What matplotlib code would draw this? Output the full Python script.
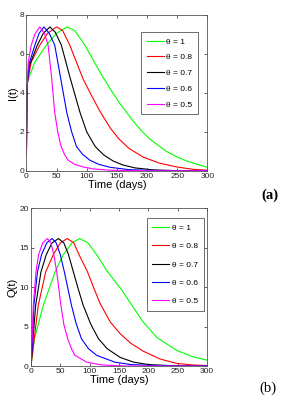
import numpy as np
import matplotlib
matplotlib.use("Agg")
from matplotlib import pyplot as plt
from matplotlib import font_manager

# fuente estrecha si existe
nombres = set(f.name for f in font_manager.fontManager.ttflist)
fams = [n for n in ['Liberation Sans Narrow', 'DejaVu Sans Condensed', 'Liberation Sans'] if n in nombres]
plt.rcParams['font.family'] = fams + ['DejaVu Sans']

# valores
labels = ["\u03b8 = 1", "\u03b8 = 0.8", "\u03b8 = 0.7", "\u03b8 = 0.6", "\u03b8 = 0.5"]
colores = ["#00ff00", "#ff0000", "#000000", "#0000ff", "#ff00ff"]

# I(t)
tI_1 = [0, 1, 2, 14, 33, 50, 67, 80, 97, 114, 127, 140, 155, 177, 194, 205, 232, 249, 266, 300]
I_1 = [0.8, 4.3, 4.6, 5.58, 6.44, 7.05, 7.38, 7.2, 6.44, 5.5, 4.8, 4.15, 3.45, 2.55, 1.95, 1.62, 1.0, 0.72, 0.5, 0.18]
tI_08 = [0, 1, 2, 8, 22, 35, 50, 60, 72, 94, 109, 122, 139, 153, 170, 194, 220, 249, 275, 300]
I_08 = [0.8, 4.3, 4.6, 5.58, 6.44, 7.05, 7.38, 7.2, 6.44, 4.71, 3.8, 3.05, 2.2, 1.65, 1.15, 0.7, 0.4, 0.2, 0.08, 0.03]
tI_07 = [0, 1, 2, 5, 18, 28, 39, 48, 58, 73, 89, 100, 114, 128, 144, 160, 180, 210, 250, 300]
I_07 = [0.8, 4.3, 4.6, 5.4, 6.44, 7.05, 7.38, 7.1, 6.44, 4.71, 2.98, 2.0, 1.25, 0.82, 0.5, 0.3, 0.15, 0.05, 0.01, 0.0]
tI_06 = [0, 1, 2, 4, 14, 21, 29, 38, 47, 57, 67, 75, 83, 93, 105, 120, 139, 170, 220, 300]
I_06 = [0.8, 4.3, 4.6, 5.45, 6.44, 7.05, 7.38, 7.05, 6.44, 4.71, 2.98, 2.0, 1.25, 0.85, 0.55, 0.33, 0.18, 0.06, 0.01, 0.0]
tI_05 = [0, 1, 2, 3, 8, 14, 22, 30, 36, 42, 47, 52, 57, 63, 69, 80, 94, 110, 140, 200, 300]
I_05 = [0.8, 4.3, 4.6, 5.58, 6.44, 7.0, 7.38, 7.05, 6.44, 4.71, 2.98, 2.0, 1.3, 0.85, 0.55, 0.33, 0.2, 0.1, 0.03, 0.0, 0.0]

# Q(t)
tQ_1 = [0, 6, 21, 41, 55, 70, 83, 97, 112, 129, 155, 172, 191, 215, 248, 275, 300]
Q_1 = [0, 3.47, 7.7, 11.9, 14.1, 15.6, 16.15, 15.6, 14.1, 12.1, 9.6, 7.7, 5.6, 3.6, 2.0, 1.2, 0.75]
tQ_08 = [0, 5.5, 12.5, 25, 38, 50, 62, 73, 82, 96, 107, 118, 135, 152, 170, 191, 220, 248, 275, 300]
Q_08 = [0, 3.47, 7.7, 11.9, 14.1, 15.6, 16.15, 15.6, 14.1, 12.0, 9.9, 7.9, 5.6, 4.1, 2.9, 1.9, 0.9, 0.35, 0.15, 0.07]
tQ_07 = [0, 3.5, 8, 17, 26, 36, 47, 56, 64, 72, 80, 89, 102, 115, 130, 152, 175, 200, 240, 300]
Q_07 = [0, 3.47, 7.7, 11.9, 14.1, 15.6, 16.15, 15.6, 14.1, 12.0, 9.9, 7.7, 5.3, 3.47, 2.2, 1.1, 0.5, 0.2, 0.05, 0.0]
tQ_06 = [0, 2.5, 5, 11, 18, 27, 36, 43, 50, 57, 63, 69, 77, 86, 98, 112, 143, 170, 220, 300]
Q_06 = [0, 3.47, 7.7, 11.9, 14.1, 15.6, 16.15, 15.6, 14.1, 11.9, 9.8, 7.7, 5.4, 3.47, 2.2, 1.36, 0.5, 0.2, 0.03, 0.0]
tQ_05 = [0, 2, 4, 8.5, 13, 20, 28, 34, 39, 44, 51, 56, 62.5, 69, 75, 95, 120, 160, 300]
Q_05 = [0, 3.47, 7.7, 11.9, 14.1, 15.6, 16.15, 15.6, 14.1, 11.9, 7.7, 5.3, 3.47, 2.2, 1.36, 0.5, 0.15, 0.02, 0.0]

xticks = [0, 50, 100, 150, 200, 250, 300]
yticksI = [0, 2, 4, 6, 8]
yticksQ = [0, 5, 10, 15, 20]

fig = plt.figure(figsize=(2.84, 4.01), dpi=100)
ax1 = fig.add_axes([0.093, 0.574, 0.637, 0.389])
ax2 = fig.add_axes([0.109, 0.087, 0.62, 0.394])


def panel(ax, series, yticks, ylabel, leg_anchor, spacing):
    for (t, v), lab, c in zip(series, labels, colores):
        ax.plot(t, v, color=c, lw=0.8, label=lab)
    ax.set_xlim(0, 300)
    ax.set_ylim(yticks[0], yticks[-1])
    ax.set_xticks(xticks)
    ax.set_yticks(yticks)
    ax.tick_params(direction='in', top=True, right=True, length=2.5, width=0.5,
                   labelsize=6, pad=1.5, colors='#222222')
    for s in ax.spines.values():
        s.set_linewidth(0.6)
        s.set_color('#555555')
    ax.set_xlabel("Time (days)", fontsize=8, labelpad=0)
    ax.set_ylabel(ylabel, fontsize=8, labelpad=1)
    leg = ax.legend(loc='upper right', bbox_to_anchor=leg_anchor, fontsize=6,
                    handlelength=2.0, handletextpad=0.3, labelspacing=spacing,
                    borderpad=0.7, borderaxespad=0, fancybox=False, framealpha=1)
    leg.get_frame().set_edgecolor('#555555')
    leg.get_frame().set_linewidth(0.6)


panel(ax1, [(tI_1, I_1), (tI_08, I_08), (tI_07, I_07), (tI_06, I_06), (tI_05, I_05)],
      yticksI, "I(t)", (0.95, 0.89), 0.95)
panel(ax2, [(tQ_1, Q_1), (tQ_08, Q_08), (tQ_07, Q_07), (tQ_06, Q_06), (tQ_05, Q_05)],
      yticksQ, "Q(t)", (0.98, 0.935), 1.25)

fig.text(0.952, 0.514, "(a)", fontsize=10.5, fontweight='bold', family='Liberation Serif',
         ha='center', va='center')
fig.text(0.945, 0.032, "(b)", fontsize=10.5, family='Liberation Serif',
         ha='center', va='center')

fig.savefig("out.png", dpi=100)
